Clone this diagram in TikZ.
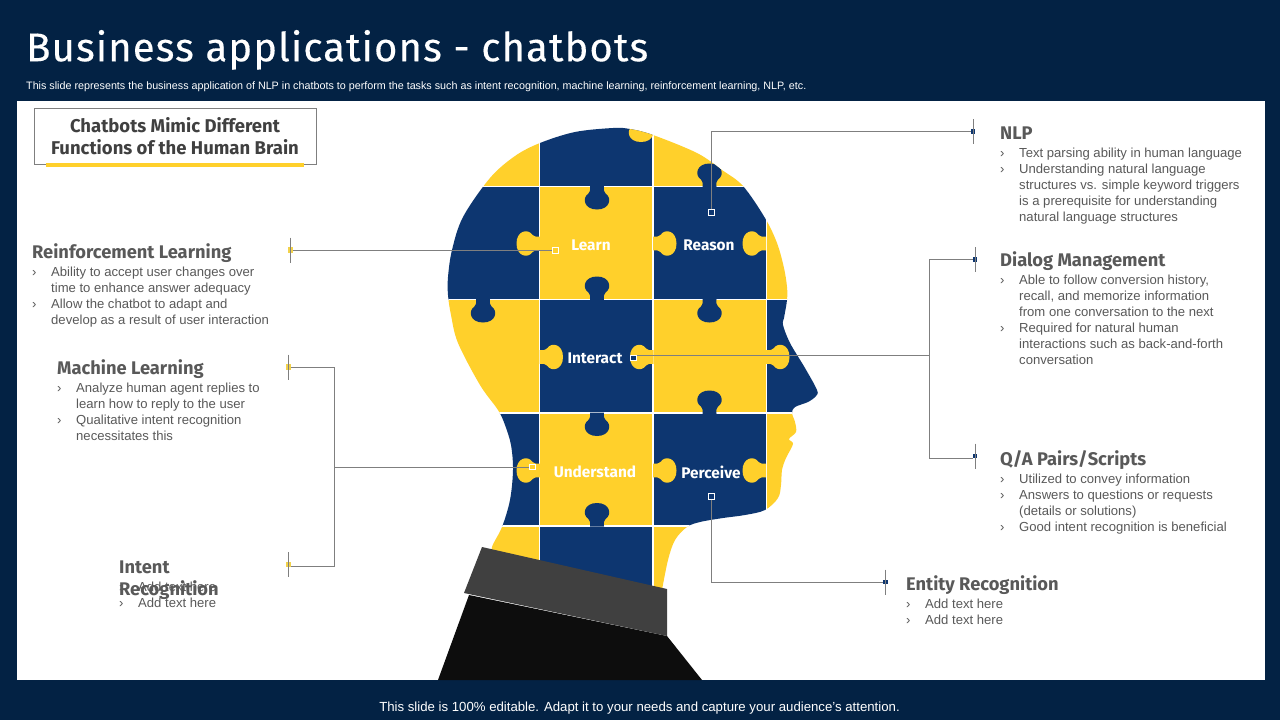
\documentclass[tikz,border=0pt]{standalone}
\usepackage{fontspec}
\setmainfont{Liberation Sans}
\newfontfamily\din{Fira Sans}
\newfontfamily\dint[LetterSpace=2.8,FakeBold=0.35]{Fira Sans}
\definecolor{bgnavy}{HTML}{032244}
\definecolor{pnavy}{HTML}{0D3670}
\definecolor{pyellow}{HTML}{FFD02B}
\definecolor{txtgray}{HTML}{595959}
\definecolor{linegray}{HTML}{7F7F7F}
\definecolor{dyellow}{HTML}{F2D24B}
\newcommand\knob[4]{\fill[#1,shift={(#2,#3)},rotate=#4] (-7,0) .. controls (-6.5,3) and (-6.5,5) .. (-9,8) .. controls (-15,12) and (-13,23.5) .. (0,23.5) .. controls (13,23.5) and (15,12) .. (9,8) .. controls (6.5,5) and (6.5,3) .. (7,0) -- cycle;}
\newcommand\cell[5]{\fill[#5] (#1,#2) rectangle (#3,#4);}
\newcommand\bl{\leavevmode\llap{\makebox[19pt][l]{›}}}
\tikzset{
  x=1pt,y=-1pt,
  head/.style={anchor=base west,inner sep=0,font=\din\bfseries\fontsize{18.3}{22}\selectfont,text=txtgray,align=left},
  bodytxt/.style={anchor=north west,inner sep=0,font=\fontsize{13.1}{16}\selectfont,text=txtgray,align=left},
  plabel/.style={inner sep=0,font=\din\bfseries\fontsize{15.4}{17}\selectfont,text=white},
  conn/.style={draw=linegray,line width=0.8pt},
  hollow/.style={draw=white,line width=0.9pt,minimum size=5.5pt,inner sep=0,rectangle},
  endn/.style={fill=pnavy,minimum size=4.5pt,inner sep=0,rectangle},
  endy/.style={fill=dyellow,minimum size=5.5pt,inner sep=0,rectangle},
  ticked/.style={draw=linegray,line width=0.8pt}
}
\begin{document}
\begin{tikzpicture}
\useasboundingbox (0,0) rectangle (1280,720);
\fill[bgnavy] (0,0) rectangle (1280,720);
\fill[white] (17,101) rectangle (1265,680);
% head
\begin{scope}
\clip plot[smooth,tension=0.55] coordinates {(492,560)(492,547)(502,527)(510,500)(513,470)(511,445)(505,425)(498,410)(480,385)(458,343)(451,315)(448,295)(448,277)(452,250)(463,217)(490,178)(515,156)(540,143)(575,132)(613,128)(630,129)(653,135)(697,153)(722,170)(743,186)(765,218)(777,243)(784,268)(787,287)(787,300)(784,318)(783,325)(790,343)(805,368)(817,390)(816,396)(808,402)(795,407)(792,413)(795,422)(796,432)(789,439)(793,444)(786,458)(782,470)(781,485)(778,498)(765,510)(745,515)(723,518)(700,522)(687,527)(675,540)(668,560)(662,590)} -- (662,610) -- (490,590) -- cycle;
\cell{440}{120}{540}{186.5}{pyellow}
\cell{540}{120}{653}{186.5}{pnavy}
\cell{653}{120}{767}{186.5}{pyellow}
\cell{440}{186.5}{540}{300}{pnavy}
\cell{540}{186.5}{653}{300}{pyellow}
\cell{653}{186.5}{767}{300}{pnavy}
\cell{767}{186.5}{830}{300}{pyellow}
\cell{440}{300}{540}{413}{pyellow}
\cell{540}{300}{653}{413}{pnavy}
\cell{653}{300}{767}{413}{pyellow}
\cell{767}{300}{830}{413}{pnavy}
\cell{440}{413}{540}{526}{pnavy}
\cell{540}{413}{653}{526}{pyellow}
\cell{653}{413}{767}{526}{pnavy}
\cell{767}{413}{830}{526}{pyellow}
\cell{440}{526}{540}{620}{pyellow}
\cell{540}{526}{653}{620}{pnavy}
\cell{653}{526}{767}{620}{pyellow}
\draw[white,line width=1.6pt] (539.5,120)--(539.5,620) (653,120)--(653,620) (766.5,120)--(766.5,620)
  (440,186.5)--(830,186.5) (440,299.5)--(830,299.5) (440,413)--(830,413) (440,526)--(830,526);
\knob{pyellow}{641}{118.5}{0}
\knob{pnavy}{597}{186}{0}
\knob{pnavy}{709.5}{187}{180}
\knob{pnavy}{483}{299}{0}
\knob{pnavy}{597}{300}{180}
\knob{pnavy}{709.5}{299}{0}
\knob{pnavy}{709.5}{414}{180}
\knob{pnavy}{597}{412.5}{0}
\knob{pnavy}{597}{526.5}{180}
\knob{pyellow}{540}{243.5}{-90}
\knob{pyellow}{653}{243.5}{90}
\knob{pyellow}{766}{243.5}{-90}
\knob{pyellow}{539.5}{357}{90}
\knob{pyellow}{653.5}{357}{-90}
\knob{pyellow}{766}{357}{90}
\knob{pyellow}{540}{470.5}{-90}
\knob{pyellow}{653}{470.5}{90}
\knob{pyellow}{766}{470.5}{-90}
\end{scope}
% body
\fill[black!95] (469,595) -- (667,636) -- (702,680) -- (438,680) -- cycle;
\fill[black!75] (482,547) -- (667,589) -- (667,636) -- (464,593) -- cycle;
% title
\node[anchor=base west,inner sep=0,text=white,font=\dint\fontsize{40}{44}\selectfont] (title) at (26,61.2) {Business applications - chatbots};
\node[anchor=base west,inner sep=0,text=white,font=\fontsize{10.75}{12}\selectfont] (sub) at (26,89) {This slide represents the business application of NLP  in chatbots to perform the tasks such as intent recognition, machine learning,  reinforcement learning, NLP,  etc.};
\node[inner sep=0,text=white,font=\fontsize{13.2}{14}\selectfont] (foot) at (639.5,708.5) {This slide is 100\% editable. Adapt it to your needs and capture your audience's attention.};
% heading box
\node[draw=linegray,line width=0.7pt,outer sep=0,minimum width=282pt,minimum height=56.5pt,inner sep=0,anchor=north west,align=center,text=black!75,font=\din\bfseries\fontsize{18.5}{22}\selectfont] (box) at (34,108) {\raisebox{1pt}{Chatbots Mimic Different}\\\raisebox{1pt}{Functions of the Human Brain}};
\fill[pyellow] (46,163) rectangle (304,166.5);
% labels
\node[plabel] (lLearn) at (591,245) {Learn};
\node[plabel] (lReason) at (709,245) {Reason};
\node[plabel] (lInteract) at (595,358) {Interact};
\node[plabel] (lUnder) at (595,472) {Understand};
\node[plabel] (lPerc) at (711,472) {Perceive};
% dots
\node[hollow,fill=pyellow] (dLearn) at (555.5,250.5) {};
\node[hollow,fill=pnavy] (dReason) at (711.5,212.5) {};
\node[hollow,fill=pnavy] (dInteract) at (633.5,358) {};
\node[hollow,fill=pyellow] (dUnder) at (532.5,467) {};
\node[hollow,fill=pnavy] (dPerc) at (711.5,496.5) {};
% ends
\node[endn] (eNLP) at (973,131.5) {};
\node[endn] (eDialog) at (975,259.5) {};
\node[endn] (eQA) at (975,456) {};
\node[endn] (eEntity) at (885.5,582) {};
\node[endy] (eRL) at (290.5,250) {};
\node[endy] (eML) at (288.5,367) {};
\node[endy] (eIR) at (288.5,564.5) {};
\coordinate (jDialog) at (929,355);
\coordinate (jML) at (334.5,467);
% connectors
\draw[conn] (dReason) |- (eNLP);
\draw[conn] (dPerc) |- (eEntity);
\draw[conn] (eRL) -- (dLearn.west |- eRL);
\draw[conn] (dInteract.east |- jDialog) -- (jDialog);
\draw[conn] (eDialog) -| (jDialog);
\draw[conn] (eQA.west) ++(0,2) -| (jDialog);
\draw[conn] (eML) -| (jML);
\draw[conn] (eIR.east) ++(0,2) -| (jML);
\draw[conn] (jML) -- (dUnder);
% ticks
\foreach \n in {eNLP,eDialog,eQA,eEntity,eRL,eML,eIR}
  \draw[ticked] ([yshift=12.5pt]\n.center) -- ([yshift=-12.5pt]\n.center);
% text
\node[head] (hNLP) at (1000,139) {NLP};
\node[bodytxt] (tNLP) at (1019,148) {\bl Text parsing ability in human language\\\bl Understanding natural language\\structures vs. simple keyword triggers\\is a prerequisite for understanding\\natural language structures};
\node[head] (hDialog) at (1000,266) {Dialog Management};
\node[bodytxt] (tDialog) at (1019,275) {\bl Able to follow conversion history,\\recall, and memorize information\\from one conversation to the next\\\bl Required for natural human\\interactions such as back-and-forth\\conversation};
\node[head] (hQA) at (1000,465) {Q/A Pairs/Scripts};
\node[bodytxt] (tQA) at (1019,474) {\bl Utilized to convey information\\\bl Answers to questions or requests\\(details or solutions)\\\bl Good intent recognition is beneficial};
\node[head] (hEntity) at (906,590) {Entity Recognition};
\node[bodytxt] (tEntity) at (925,599) {\bl Add text here\\\bl Add text here};
\node[head] (hRL) at (32,258) {Reinforcement Learning};
\node[bodytxt] (tRL) at (51,267) {\bl Ability to accept user changes over\\time to enhance answer adequacy\\\bl Allow the chatbot to adapt and\\develop as a result of user interaction};
\node[head] (hML) at (57,374) {Machine Learning};
\node[bodytxt] (tML) at (76,383) {\bl Analyze human agent replies to\\learn how to reply to the user\\\bl Qualitative intent recognition\\necessitates this};
\node[bodytxt] (tIR) at (138,582) {\bl Add text here\\\bl Add text here};
\node[head] (hIR1) at (119,573) {Intent};
\node[head] (hIR2) at (119,595) {Recognition};
\end{tikzpicture}
\end{document}
